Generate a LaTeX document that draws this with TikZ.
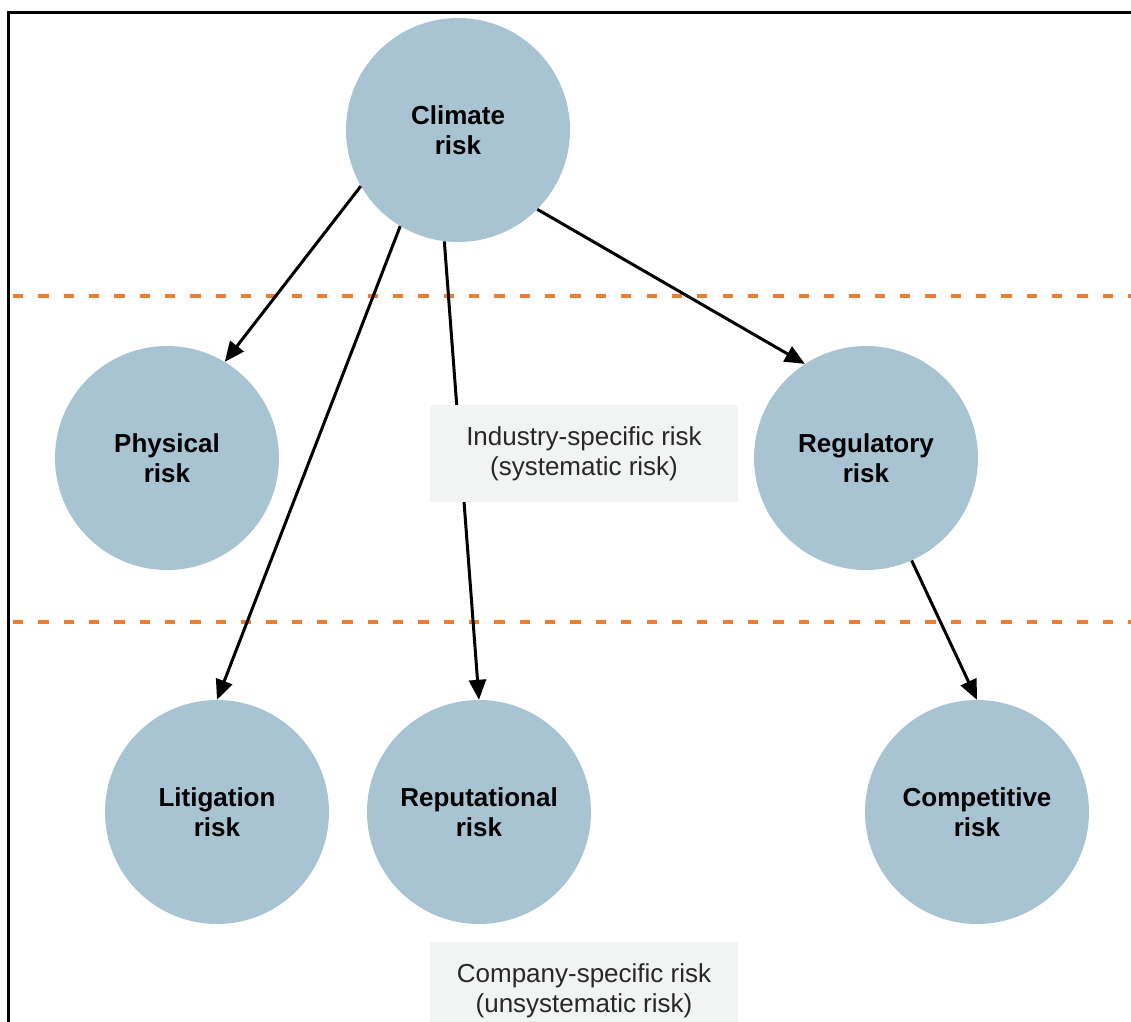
\documentclass[tikz,border=0pt]{standalone}
\usepackage{fontspec}
\setmainfont{Liberation Sans}
\usetikzlibrary{arrows.meta}
\definecolor{riskfill}{RGB}{168,196,210}
\definecolor{bandline}{RGB}{237,125,49}
\definecolor{notefill}{RGB}{242,243,243}
\definecolor{notetext}{RGB}{40,40,40}

\begin{document}
\begin{tikzpicture}[x=1pt,y=-1pt,
  risk/.style={circle, fill=riskfill, minimum size=224pt, inner sep=0pt, align=center,
               font=\fontsize{26}{30}\selectfont\bfseries},
  note/.style={rectangle, fill=notefill, minimum width=308pt, minimum height=97pt,
               inner sep=0pt, align=center, font=\fontsize{26}{30}\selectfont, text=notetext},
  band/.style={draw=bandline, line width=4pt, dash pattern=on 10.3pt off 15.04pt},
  link/.style={line width=3pt, -{Triangle[length=20pt,width=17pt]}},
  frame/.style={line width=3pt},
]
\useasboundingbox (0,0) rectangle (1131,1021);
\clip (0,0) rectangle (1131,1021);
\fill[white] (0,0) rectangle (1131,1021);

% frame along the left and top edges
\draw[frame] (8,1030) -- (8,12) -- (1140,12);

% band separators
\draw[band] (13,296) -- (1131,296);
\draw[band] (13,622) -- (1131,622);

% risk circles
\node[risk] (climate)      at (458,130) {Climate\\risk};
\node[risk] (physical)     at (167,458) {Physical\\risk};
\node[risk] (regulatory)   at (866,458) {Regulatory\\risk};
\node[risk] (litigation)   at (217,812) {Litigation\\risk};
\node[risk] (reputational) at (479,812) {Reputational\\risk};
\node[risk] (competitive)  at (977,812) {Competitive\\risk};

% links
\draw[link] (climate.210) -- (physical.59);
\draw[link] (climate.239) -- (litigation.90);
\draw[link] (climate.263) -- (reputational.90);
\draw[link] (climate.315) -- (regulatory.123);
\draw[link] (regulatory.294) -- (competitive.90);

% band labels
\node[note] (industry) at (584,453.5) {Industry-specific risk\\(systematic risk)};
\node[note] (company)  at (584,990.5) {Company-specific risk\\(unsystematic risk)};
\end{tikzpicture}
\end{document}
